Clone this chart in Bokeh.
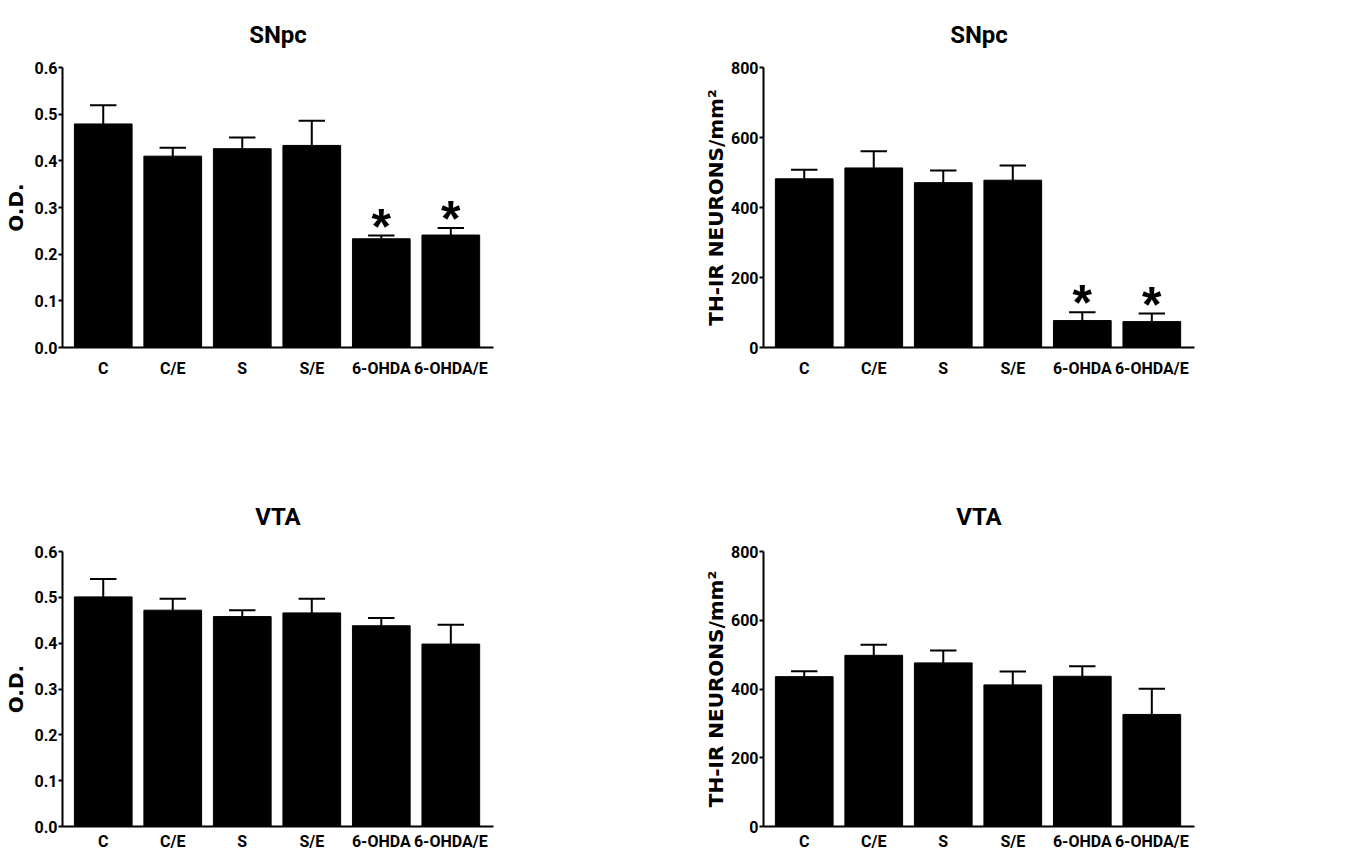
from bokeh.plotting import figure
from bokeh.layouts import column, row
from bokeh.models import Range1d, FixedTicker, ColumnDataSource, NumeralTickFormatter
from bokeh.core.properties import value
from bokeh.embed import file_html
from bokeh.resources import INLINE

groups = ["C", "C/E", "S", "S/E", "6-OHDA", "6-OHDA/E"]

snpc_od_mean = [0.479, 0.410, 0.426, 0.433, 0.233, 0.241]
snpc_od_sem = [0.040, 0.018, 0.024, 0.053, 0.007, 0.015]
snpc_th_mean = [482, 513, 471, 478, 77, 74]
snpc_th_sem = [26, 48, 35, 42, 24, 23]
vta_od_mean = [0.501, 0.472, 0.458, 0.466, 0.438, 0.398]
vta_od_sem = [0.039, 0.025, 0.014, 0.031, 0.017, 0.042]
vta_th_mean = [436, 498, 476, 412, 437, 326]
vta_th_sem = [16, 31, 36, 39, 29, 75]
snpc_sig = ["", "", "", "", "*", "*"]
vta_sig = ["", "", "", "", "", ""]

od_ticks = [0.0, 0.1, 0.2, 0.3, 0.4, 0.5, 0.6]
th_ticks = [0, 200, 400, 600, 800]

NARROW = "Roboto"
WIDE = "DejaVu Sans"


def panel(title, ylabel, means, sems, sig, ticks, fmt, w, h, bl, br, bt, bb,
          xstand, ystand, tstand):
    xs = list(range(1, len(groups) + 1))
    tops = [m + s for m, s in zip(means, sems)]
    src = ColumnDataSource(dict(
        x=xs, m=means, top=tops,
        x0=[x - 0.19 for x in xs], x1=[x + 0.19 for x in xs], sig=sig))
    p = figure(width=w, height=h, x_range=Range1d(0.414, 6.614),
               y_range=Range1d(ticks[0], ticks[-1]),
               output_backend="svg", toolbar_location=None,
               min_border_left=bl, min_border_right=br,
               min_border_top=bt, min_border_bottom=bb)
    p.vbar(x="x", top="m", bottom=0, width=0.83, fill_color="black",
           line_color="black", source=src)
    p.segment(x0="x", y0="m", x1="x", y1="top", line_width=2,
              line_color="black", source=src)
    p.segment(x0="x0", y0="top", x1="x1", y1="top", line_width=2,
              line_color="black", source=src)
    p.text(x="x", y="top", text="sig", text_align="center",
           text_baseline="alphabetic", text_font=value("Liberation Sans"),
           text_font_style="bold", text_font_size="50px", y_offset=-9,
           text_color="black", source=src)

    p.title.text = title
    p.title.align = "center"
    p.title.text_font = NARROW
    p.title.text_font_style = "bold"
    p.title.text_font_size = "24px"
    p.title.text_color = "black"
    p.title.standoff = tstand

    p.outline_line_color = None
    p.grid.visible = False
    p.background_fill_color = "white"

    xa = p.xaxis[0]
    xa.ticker = FixedTicker(ticks=xs)
    xa.major_label_overrides = {x: g for x, g in zip(xs, groups)}
    xa.major_tick_out = 0
    xa.major_tick_in = 0
    xa.minor_tick_out = 0
    xa.minor_tick_in = 0
    xa.axis_line_width = 2
    xa.axis_line_color = "black"
    xa.major_label_standoff = xstand
    xa.major_label_text_font = NARROW
    xa.major_label_text_font_style = "bold"
    xa.major_label_text_font_size = "16px"
    xa.major_label_text_color = "black"

    ya = p.yaxis[0]
    ya.ticker = FixedTicker(ticks=ticks)
    ya.formatter = NumeralTickFormatter(format=fmt)
    ya.major_tick_out = 4
    ya.major_tick_in = 0
    ya.major_tick_line_width = 2
    ya.minor_tick_out = 0
    ya.minor_tick_in = 0
    ya.axis_line_width = 2
    ya.axis_line_color = "black"
    ya.major_label_standoff = 1
    ya.major_label_text_font = NARROW
    ya.major_label_text_font_style = "bold"
    ya.major_label_text_font_size = "16px"
    ya.major_label_text_color = "black"
    ya.axis_label = ylabel
    ya.axis_label_text_font = WIDE
    ya.axis_label_text_font_style = "bold"
    ya.axis_label_text_font_size = "20px"
    ya.axis_label_text_color = "black"
    ya.axis_label_standoff = ystand
    return p


p1 = panel("SNpc", "O.D.", snpc_od_mean, snpc_od_sem, snpc_sig, od_ticks, "0.0",
           676, 480, 61, 183, 67, 133, 11, 4, 37)
p2 = panel("SNpc", "TH-IR NEURONS/mm²", snpc_th_mean, snpc_th_sem, snpc_sig,
           th_ticks, "0", 676, 480, 87, 158, 67, 133, 11, 0, 37)
p3 = panel("VTA", "O.D.", vta_od_mean, vta_od_sem, vta_sig, od_ticks, "0.0",
           676, 373, 61, 183, 71, 24, 5, 4, 41)
p4 = panel("VTA", "TH-IR NEURONS/mm²", vta_th_mean, vta_th_sem, vta_sig,
           th_ticks, "0", 676, 373, 87, 158, 71, 24, 5, 0, 41)

layout = column(row(p1, p2), row(p3, p4))
open("out.html", "w").write(file_html(layout, INLINE))
